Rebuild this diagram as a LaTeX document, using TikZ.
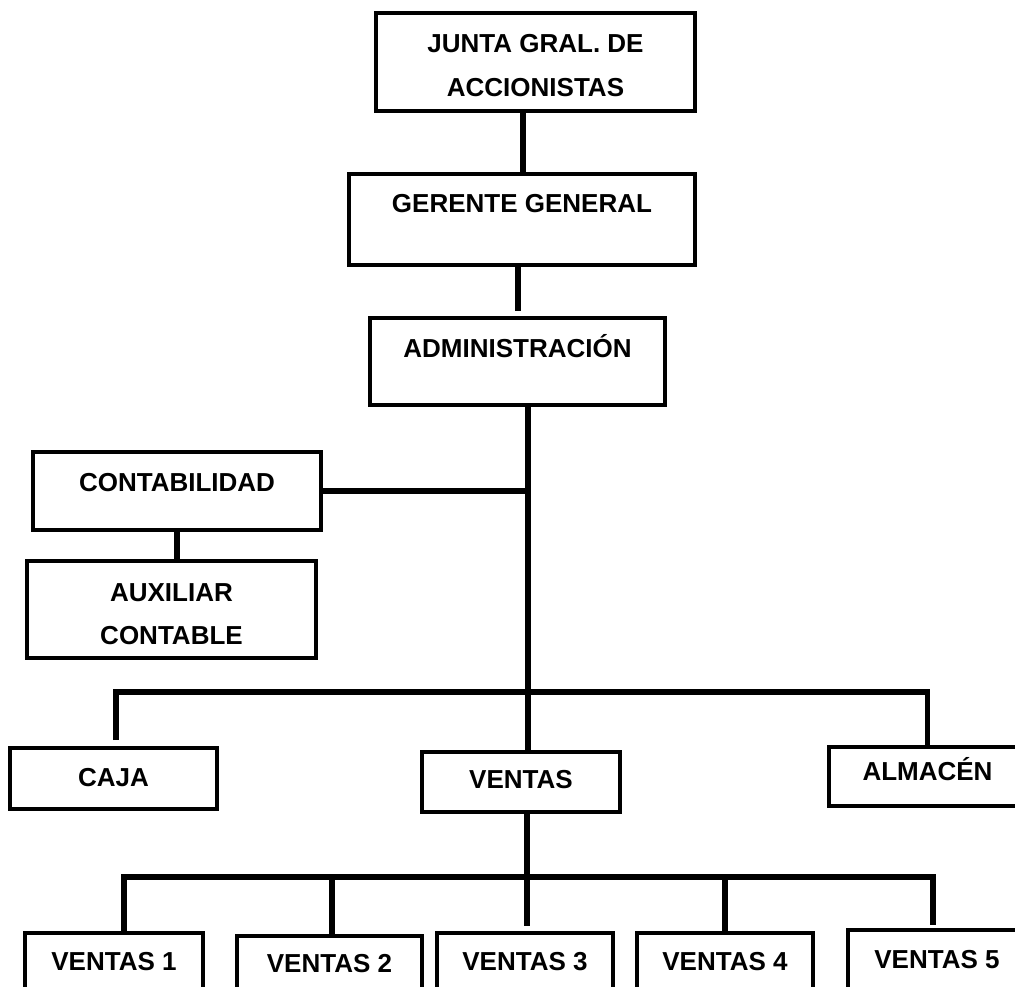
\documentclass[tikz,border=0pt]{standalone}
\usepackage{fontspec}
\setmainfont{Liberation Sans}
\begin{document}
\begin{tikzpicture}[x=1pt,y=-1pt,
  box/.style={draw=black, line width=4pt, inner sep=0pt, fill=white},
  lbl/.style={font=\fontsize{26}{30}\selectfont\bfseries, inner sep=0pt, anchor=base},
  conn/.style={draw=black, line width=5.5pt}]
\useasboundingbox (0,0) rectangle (1015,987);
\fill[white] (0,0) rectangle (1015,987);
\clip (0,0) rectangle (1015,987);
% boxes
\node[box, minimum width=319pt, minimum height=98pt] (junta) at (535.5,62) {};
\node[box, minimum width=346pt, minimum height=91pt] (gerente) at (522,219.5) {};
\node[box, minimum width=295pt, minimum height=87pt] (admin) at (517.5,361.5) {};
\node[box, minimum width=288pt, minimum height=78pt] (contab) at (177,491) {};
\node[box, minimum width=289pt, minimum height=97pt] (aux) at (171.5,609.5) {};
\node[box, minimum width=207pt, minimum height=61pt] (caja) at (113.5,778.5) {};
\node[box, minimum width=198pt, minimum height=60pt] (ventas) at (521,782) {};
\node[box, minimum width=197pt, minimum height=59pt] (almacen) at (927.5,776.5) {};
\node[box, minimum width=178pt, minimum height=67pt] (v1) at (114,966.5) {};
\node[box, minimum width=185pt, minimum height=64pt] (v2) at (329.5,968) {};
\node[box, minimum width=176pt, minimum height=67pt] (v3) at (525,966.5) {};
\node[box, minimum width=176pt, minimum height=67pt] (v4) at (725,966.5) {};
\node[box, minimum width=178pt, minimum height=70pt] (v5) at (937,965) {};
% labels
\node[lbl] (tjunta1) at (535.5,53) {JUNTA GRAL. DE};
\node[lbl] (tjunta2) at (535.5,97) {ACCIONISTAS};
\node[lbl] (tgerente) at (522,213) {GERENTE GENERAL};
\node[lbl] (tadmin) at (517.5,357) {ADMINISTRACIÓN};
\node[lbl] (tcontab) at (177,491) {CONTABILIDAD};
\node[lbl] (taux1) at (171.5,601) {AUXILIAR};
\node[lbl] (taux2) at (171.5,644) {CONTABLE};
\node[lbl] (tcaja) at (113.5,786) {CAJA};
\node[lbl] (tventas) at (521,788) {VENTAS};
\node[lbl] (talmacen) at (927.5,780) {ALMACÉN};
\node[lbl] (tv1) at (114,970) {VENTAS 1};
\node[lbl] (tv2) at (329.5,972) {VENTAS 2};
\node[lbl] (tv3) at (525,970) {VENTAS 3};
\node[lbl] (tv4) at (725,970) {VENTAS 4};
\node[lbl] (tv5) at (937,968) {VENTAS 5};
% connectors
\coordinate (trunk) at ([xshift=10.5pt]admin.south);
\coordinate (bar) at (528,692);
\coordinate (bar2) at (527,877);
\path[conn] ([xshift=-12.5pt]junta.south) -- ([xshift=1pt]gerente.north);
\path[conn] ([xshift=-4pt]gerente.south) -- ([xshift=0.5pt,yshift=5pt]admin.north);
\path[conn] (trunk) -- ([xshift=7pt]ventas.north);
\path[conn] (contab.east) -- (contab.east -| trunk);
\path[conn] (contab.south) -- (contab.south |- aux.north);
\path[conn] ([xshift=2.5pt,yshift=6pt]caja.north) |- (bar) -| (almacen.north);
\path[conn] ([xshift=6pt]ventas.south) -- ([xshift=2pt,yshift=5pt]v3.north);
\path[conn] ([xshift=10pt]v1.north) |- (bar2) -| ([xshift=-4pt,yshift=3pt]v5.north);
\coordinate (v2top) at ([xshift=2.5pt]v2.north);
\path[conn] (v2top) -- (v2top |- bar2);
\path[conn] (v4.north) -- (v4.north |- bar2);
\end{tikzpicture}
\end{document}
